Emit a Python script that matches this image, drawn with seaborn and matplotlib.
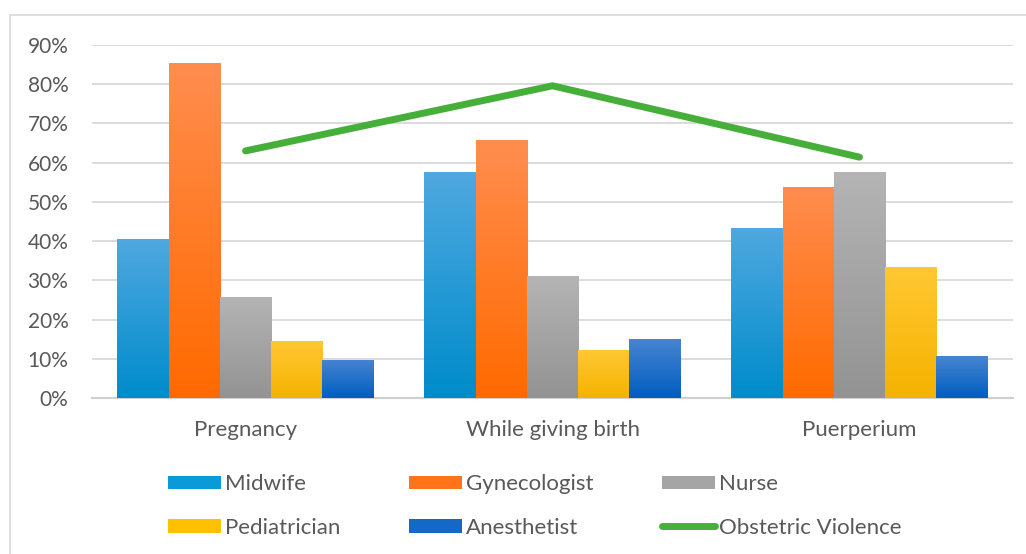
import numpy as np
import pandas as pd
import seaborn as sns
import matplotlib.pyplot as plt
from matplotlib.patches import Rectangle, Patch
from matplotlib.lines import Line2D
from matplotlib.colors import LinearSegmentedColormap
from matplotlib.ticker import PercentFormatter

# data
stages = ["Pregnancy", "While giving birth", "Puerperium"]
professions = ["Midwife", "Gynecologist", "Nurse", "Pediatrician", "Anesthetist"]
midwife = [40.6, 57.7, 43.4]
gynecologist = [85.5, 65.7, 53.8]
nurse = [25.8, 31.1, 57.6]
pediatrician = [14.5, 12.2, 33.4]
anesthetist = [9.7, 15.0, 10.7]
obstetric_violence = [63.0, 79.6, 61.4]
y_ticks = [0, 10, 20, 30, 40, 50, 60, 70, 80, 90]

# (top, bottom) gradient colours per profession
grad = {
    "Midwife": ("#4FA8DF", "#008CCB"),
    "Gynecologist": ("#FF8D4F", "#FF6A00"),
    "Nurse": ("#B4B4B4", "#939393"),
    "Pediatrician": ("#FFC833", "#F5B200"),
    "Anesthetist": ("#4784D2", "#005EBF"),
}
solid = {
    "Midwife": "#0A9AD8",
    "Gynecologist": "#FF7418",
    "Nurse": "#A5A5A5",
    "Pediatrician": "#FFC000",
    "Anesthetist": "#1469C8",
}
line_color = "#46AF3A"
text_color = "#595959"

df = pd.DataFrame({
    "stage": np.repeat(stages, len(professions)),
    "profession": professions * len(stages),
    "value": np.array([midwife, gynecologist, nurse, pediatrician, anesthetist]).T.ravel() / 100,
})

sns.set_theme(style="white")
plt.rcParams['font.family'] = ['Lato', 'DejaVu Sans']

fig = plt.figure(figsize=(10.26, 5.54), dpi=100)
ax = fig.add_axes([92 / 1026, 1 - 398 / 554, (1013 - 92) / 1026, (398 - 45) / 554])

sns.barplot(data=df, x="stage", y="value", hue="profession", order=stages,
            hue_order=professions, palette=solid, width=0.835, gap=0,
            saturation=1, legend=False, ax=ax, zorder=3, linewidth=0)

# vertical gradient inside each bar
for container, prof in zip(ax.containers, professions):
    cmap = LinearSegmentedColormap.from_list(prof, [grad[prof][1], grad[prof][0]])
    for bar in container:
        x0, y0 = bar.get_x(), bar.get_y()
        w, h = bar.get_width(), bar.get_height()
        img = ax.imshow(np.linspace(0, 1, 64).reshape(-1, 1), cmap=cmap,
                        extent=[x0, x0 + w, y0, y0 + h], origin="lower",
                        aspect="auto", zorder=3.5, interpolation="bicubic")
        img.set_clip_path(bar)

ax.plot(range(len(stages)), np.array(obstetric_violence) / 100, color=line_color,
        lw=5, solid_capstyle="round", solid_joinstyle="miter", zorder=5)

ax.set_xlim(-0.5, 2.5)
ax.set_ylim(0, 0.9)
ax.set_yticks(np.array(y_ticks) / 100)
ax.yaxis.set_major_formatter(PercentFormatter(1.0, decimals=0))
ax.set_xlabel("")
ax.set_ylabel("")
ax.grid(axis="y", color="#D9D9D9", lw=1.3, zorder=0)
ax.grid(axis="x", visible=False)
for s in ["top", "right", "left"]:
    ax.spines[s].set_visible(False)
ax.spines["bottom"].set_color("#D0D0D0")
ax.spines["bottom"].set_linewidth(1.5)
ax.tick_params(axis="y", length=0, labelsize=15, labelcolor=text_color, pad=17)
ax.tick_params(axis="x", length=0, labelsize=16, labelcolor=text_color, pad=16)

# legend, row-major order like the reference
handles = {p: Patch(facecolor=solid[p], edgecolor="none") for p in professions}
handles["Obstetric Violence"] = Line2D([], [], color=line_color, lw=5, solid_capstyle="round")
order = ["Midwife", "Pediatrician", "Gynecologist", "Anesthetist", "Nurse", "Obstetric Violence"]
leg = fig.legend([handles[k] for k in order], order, ncol=3, loc="center",
                 bbox_to_anchor=(535 / 1026, 1 - 506 / 554), frameon=False, fontsize=16,
                 handlelength=2.35, handleheight=0.55, handletextpad=0.2,
                 columnspacing=3.1, labelspacing=1.05)
for t in leg.get_texts():
    t.set_color(text_color)

# light chart frame (only the top and left edges are visible in the reference)
fig.patches.append(Rectangle((10 / 1026, -0.1), 1.2, 1.1 - 15 / 554,
                             transform=fig.transFigure, fill=False,
                             edgecolor="#D9D9D9", lw=1.2, zorder=0))

fig.savefig("out.png", dpi=100)
